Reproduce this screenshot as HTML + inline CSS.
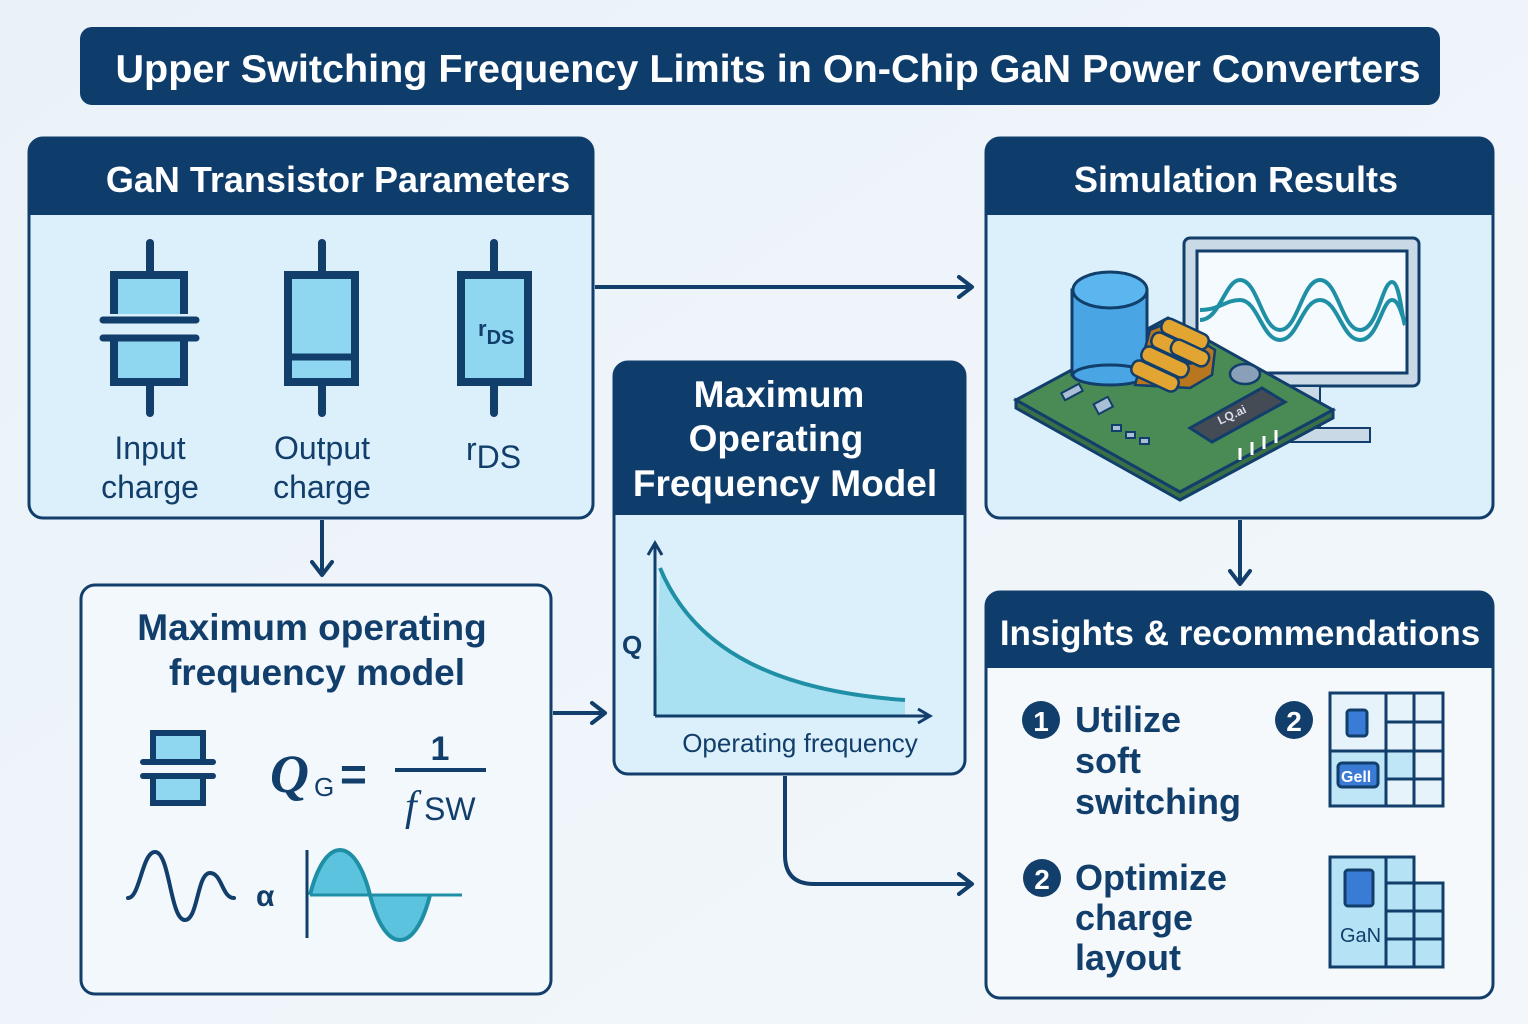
<!DOCTYPE html>
<html><head><meta charset="utf-8"><style>
html,body{margin:0;padding:0;background:#eef4f9}
svg{display:block}
text{font-family:"Liberation Sans","DejaVu Sans",sans-serif;fill:#123e6b}
</style></head><body>
<svg width="1528" height="1024" viewBox="0 0 1528 1024" xmlns="http://www.w3.org/2000/svg">
<defs>
<linearGradient id="bg" x1="0" y1="0" x2="1" y2="1"><stop offset="0" stop-color="#eaf2f8"/><stop offset="1" stop-color="#f3f7fb"/></linearGradient>
<marker id="ah" markerWidth="24" markerHeight="24" refX="19" refY="12" orient="auto" markerUnits="userSpaceOnUse" viewBox="0 0 24 24"><path d="M6,2 L19,12 L6,22" fill="none" stroke="#123e6b" stroke-width="4" stroke-linecap="round" stroke-linejoin="round"/></marker>
</defs>
<rect width="1528" height="1024" fill="url(#bg)"/>
<!-- title -->
<rect x="80" y="27" width="1360" height="78" rx="12" fill="#0f3d6b"/>
<text x="768" y="82" text-anchor="middle" font-size="39" font-weight="bold" textLength="1305" lengthAdjust="spacingAndGlyphs" style="fill:#fff">Upper Switching Frequency Limits in On-Chip GaN Power Converters</text>

<!-- left top panel -->
<rect x="29" y="138" width="564" height="380" rx="14" fill="#dcf0fb" stroke="#123e6b" stroke-width="3"/>
<path d="M29,215 V152 a14,14 0 0 1 14,-14 H579 a14,14 0 0 1 14,14 V215 Z" fill="#0f3d6b"/>
<text x="338" y="192" text-anchor="middle" font-size="36" font-weight="bold" style="fill:#fff">GaN Transistor Parameters</text>
<g stroke="#123e6b" stroke-width="8" stroke-linecap="round" fill="#8fd6f1">
<line x1="150" y1="243" x2="150" y2="275"/><line x1="150" y1="385" x2="150" y2="413"/>
<rect x="114" y="275" width="70" height="107"/>
<line x1="322" y1="243" x2="322" y2="275"/><line x1="322" y1="385" x2="322" y2="413"/>
<rect x="288" y="275" width="67" height="107"/>
<line x1="494" y1="243" x2="494" y2="275"/><line x1="494" y1="385" x2="494" y2="413"/>
<rect x="461" y="275" width="67" height="107"/>
</g>
<rect x="100" y="314" width="100" height="22" fill="#dcf0fb"/>
<line x1="103" y1="320" x2="196" y2="320" stroke="#123e6b" stroke-width="7" stroke-linecap="round"/>
<line x1="103" y1="338" x2="196" y2="338" stroke="#123e6b" stroke-width="7" stroke-linecap="round"/>
<line x1="290" y1="357" x2="354" y2="357" stroke="#123e6b" stroke-width="7"/>
<text x="478" y="336" font-size="22" font-weight="bold">r<tspan font-size="20" dy="8">DS</tspan></text>
<text x="150" y="459" text-anchor="middle" font-size="32">Input</text>
<text x="150" y="498" text-anchor="middle" font-size="32">charge</text>
<text x="322" y="459" text-anchor="middle" font-size="32">Output</text>
<text x="322" y="498" text-anchor="middle" font-size="32">charge</text>
<text x="466" y="460" font-size="32">r<tspan dy="8">DS</tspan></text>

<!-- sim panel -->
<rect x="986" y="138" width="507" height="380" rx="14" fill="#dcf0fb" stroke="#123e6b" stroke-width="3"/>
<path d="M986,215 V152 a14,14 0 0 1 14,-14 H1479 a14,14 0 0 1 14,14 V215 Z" fill="#0f3d6b"/>
<text x="1236" y="192" text-anchor="middle" font-size="36" font-weight="bold" style="fill:#fff">Simulation Results</text>
<!-- monitor -->
<rect x="1184" y="238" width="235" height="148" rx="6" fill="#c9d9e6" stroke="#123e6b" stroke-width="3"/>
<rect x="1197" y="251" width="210" height="122" fill="#f4fafd" stroke="#123e6b" stroke-width="3"/>
<rect x="1290" y="386" width="30" height="44" fill="#c9d9e6" stroke="#123e6b" stroke-width="2"/>
<rect x="1270" y="428" width="100" height="14" fill="#c9d9e6" stroke="#123e6b" stroke-width="2"/>
<path d="M1200,320 C1220,320 1225,280 1240,280 C1258,280 1262,330 1280,330 C1298,330 1302,280 1320,280 C1338,280 1342,330 1360,330 C1378,330 1382,282 1392,282 C1400,282 1402,320 1405,325" fill="none" stroke="#1f8fa6" stroke-width="4"/>
<path d="M1200,310 C1220,310 1225,300 1240,300 C1258,300 1262,340 1280,340 C1298,340 1302,300 1320,300 C1338,300 1342,340 1360,340 C1378,340 1382,300 1392,300 C1400,300 1402,320 1405,320" fill="none" stroke="#1f8fa6" stroke-width="4"/>
<!-- pcb -->
<path d="M1016,400 L1168,318 L1333,410 L1180,492 Z" fill="#4a8a55" stroke="#123e6b" stroke-width="3"/>
<path d="M1016,400 L1016,408 L1180,500 L1333,418 L1333,410 L1180,492 Z" fill="#3b7046" stroke="#123e6b" stroke-width="3"/>
<rect x="1072" y="290" width="75" height="85" fill="#4aa5e5" stroke="#123e6b" stroke-width="3"/>
<ellipse cx="1110" cy="290" rx="37" ry="18" fill="#5bb5ee" stroke="#123e6b" stroke-width="3"/>
<ellipse cx="1110" cy="375" rx="37" ry="10" fill="#4aa5e5" stroke="#123e6b" stroke-width="3"/>
<g fill="#e3a531" stroke="#123e6b" stroke-width="2.5">
<path d="M1135,385 L1150,330 L1170,322 L1215,350 L1212,375 L1190,388 Z" fill="#b8761e"/>
<rect x="1130" y="368" width="50" height="16" rx="7" transform="rotate(25 1155 376)"/>
<rect x="1140" y="354" width="50" height="16" rx="7" transform="rotate(25 1165 362)"/>
<rect x="1150" y="340" width="50" height="16" rx="7" transform="rotate(25 1175 348)"/>
<rect x="1160" y="326" width="50" height="16" rx="7" transform="rotate(25 1185 334)"/>
<rect x="1170" y="345" width="40" height="16" rx="7" transform="rotate(25 1190 353)"/>
</g>
<ellipse cx="1245" cy="374" rx="15" ry="10" fill="#8aa0b8" stroke="#123e6b" stroke-width="2.5"/>
<path d="M1190,428 L1262,388 L1285,402 L1212,442 Z" fill="#444b55" stroke="#123e6b" stroke-width="3"/>
<text x="1218" y="420" font-size="12" font-weight="bold" style="fill:#dde" transform="rotate(-25 1230 418)">LQ.ai</text>
<g stroke="#fff" stroke-width="3"><line x1="1240" y1="448" x2="1240" y2="460"/><line x1="1252" y1="442" x2="1252" y2="455"/><line x1="1264" y1="436" x2="1264" y2="449"/><line x1="1276" y1="430" x2="1276" y2="443"/></g>
<g fill="#a9bfd6" stroke="#123e6b" stroke-width="2"><rect x="1062" y="388" width="20" height="8" transform="rotate(-28 1072 392)"/><rect x="1095" y="400" width="16" height="11" transform="rotate(-28 1103 405)"/><rect x="1112" y="425" width="9" height="6"/><rect x="1126" y="432" width="9" height="6"/><rect x="1140" y="438" width="9" height="6"/></g>

<!-- middle panel -->
<rect x="614" y="362" width="351" height="412" rx="14" fill="#dcf0fb" stroke="#123e6b" stroke-width="3"/>
<path d="M614,515 V376 a14,14 0 0 1 14,-14 H951 a14,14 0 0 1 14,14 V515 Z" fill="#0f3d6b"/>
<text x="779" y="407" text-anchor="middle" font-size="37" font-weight="bold" style="fill:#fff">Maximum</text>
<text x="776" y="451" text-anchor="middle" font-size="37" font-weight="bold" style="fill:#fff">Operating</text>
<text x="785" y="496" text-anchor="middle" font-size="37" font-weight="bold" style="fill:#fff">Frequency Model</text>
<path d="M660,568 C690,640 760,690 905,700 L905,716 L655,716 Z" fill="#a9e0f2"/>
<path d="M660,568 C690,640 760,690 905,700" fill="none" stroke="#1f8fa6" stroke-width="4"/>
<line x1="655" y1="716" x2="655" y2="543" stroke="#123e6b" stroke-width="3"/>
<path d="M648,555 L655,543 L662,555" fill="none" stroke="#123e6b" stroke-width="3"/>
<line x1="655" y1="716" x2="930" y2="716" stroke="#123e6b" stroke-width="3"/>
<path d="M918,709 L930,716 L918,723" fill="none" stroke="#123e6b" stroke-width="3"/>
<text x="622" y="654" font-size="26" font-weight="bold">Q</text>
<text x="800" y="752" text-anchor="middle" font-size="26">Operating frequency</text>

<!-- bottom left panel -->
<rect x="81" y="585" width="470" height="409" rx="14" fill="#f2f8fc" stroke="#123e6b" stroke-width="3"/>
<text x="312" y="640" text-anchor="middle" font-size="37" font-weight="bold">Maximum operating</text>
<text x="317" y="685" text-anchor="middle" font-size="37" font-weight="bold">frequency model</text>
<rect x="153" y="733" width="50" height="70" fill="#8fd6f1" stroke="#123e6b" stroke-width="6"/>
<rect x="138" y="760" width="80" height="16" fill="#f2f8fc"/>
<line x1="143" y1="762" x2="213" y2="762" stroke="#123e6b" stroke-width="6" stroke-linecap="round"/>
<line x1="143" y1="776" x2="213" y2="776" stroke="#123e6b" stroke-width="6" stroke-linecap="round"/>
<text x="270" y="792" font-size="54" font-weight="bold" font-style="italic" style="font-family:'Liberation Serif',serif;fill:#123e6b">Q</text>
<text x="314" y="796" font-size="26">G</text>
<text x="340" y="790" font-size="46" font-weight="bold">=</text>
<text x="440" y="760" text-anchor="middle" font-size="34" font-weight="bold">1</text>
<line x1="395" y1="770" x2="486" y2="770" stroke="#123e6b" stroke-width="4"/>
<text x="405" y="820" font-size="42" font-style="italic" style="font-family:'Liberation Serif',serif;fill:#123e6b">f</text>
<text x="424" y="820" font-size="32">SW</text>
<path d="M128,898 C140,898 142,852 155,852 C170,852 170,920 185,920 C198,920 197,873 210,873 C222,873 222,898 234,898" fill="none" stroke="#123e6b" stroke-width="4" stroke-linecap="round"/>
<text x="256" y="906" font-size="30" font-weight="bold">α</text>
<path d="M310,895 C325,835 355,835 370,895 C385,955 415,955 430,895 Z" fill="#5cc3df"/>
<path d="M310,895 C325,835 355,835 370,895 C385,955 415,955 430,895" fill="none" stroke="#1f8fa6" stroke-width="4"/>
<line x1="310" y1="895" x2="462" y2="895" stroke="#1f8fa6" stroke-width="3"/>
<line x1="307" y1="850" x2="307" y2="938" stroke="#123e6b" stroke-width="3"/>

<!-- insights -->
<rect x="986" y="592" width="507" height="406" rx="14" fill="#f5f9fc" stroke="#123e6b" stroke-width="3"/>
<path d="M986,668 V606 a14,14 0 0 1 14,-14 H1479 a14,14 0 0 1 14,14 V668 Z" fill="#0f3d6b"/>
<text x="1240" y="645" text-anchor="middle" font-size="35" font-weight="bold" style="fill:#fff">Insights &amp; recommendations</text>
<g font-weight="bold">
<circle cx="1041" cy="720" r="19" fill="#123e6b"/><text x="1041" y="731" text-anchor="middle" font-size="28" style="fill:#fff">1</text>
<circle cx="1294" cy="720" r="19" fill="#123e6b"/><text x="1294" y="731" text-anchor="middle" font-size="28" style="fill:#fff">2</text>
<circle cx="1042" cy="878" r="19" fill="#123e6b"/><text x="1042" y="889" text-anchor="middle" font-size="28" style="fill:#fff">2</text>
<text x="1075" y="732" font-size="36">Utilize</text>
<text x="1075" y="773" font-size="36">soft</text>
<text x="1075" y="814" font-size="36">switching</text>
<text x="1075" y="890" font-size="36">Optimize</text>
<text x="1075" y="930" font-size="36">charge</text>
<text x="1075" y="970" font-size="36">layout</text>
</g>
<!-- grid 1 -->
<g stroke="#123e6b" stroke-width="3">
<rect x="1330" y="693" width="113" height="113" fill="#e6f3fa"/>
<rect x="1330" y="751" width="56" height="55" fill="#bfe6f6"/>
<rect x="1386" y="751" width="28" height="28" fill="#bfe6f6"/>
<line x1="1386" y1="693" x2="1386" y2="806"/><line x1="1414" y1="693" x2="1414" y2="806"/>
<line x1="1386" y1="722" x2="1443" y2="722"/><line x1="1330" y1="751" x2="1443" y2="751"/><line x1="1386" y1="779" x2="1443" y2="779"/>
<rect x="1347" y="710" width="20" height="26" rx="3" fill="#3a7bd5"/>
<rect x="1338" y="763" width="40" height="24" rx="4" fill="#3a7bd5"/>
</g>
<text x="1341" y="782" font-size="16" font-weight="bold" style="fill:#fff">Gell</text>
<!-- grid 2 -->
<g stroke="#123e6b" stroke-width="3">
<rect x="1330" y="857" width="56" height="110" fill="#b5e3f5"/>
<rect x="1386" y="857" width="28" height="28" fill="#b5e3f5"/>
<rect x="1386" y="883" width="57" height="84" fill="#b5e3f5"/>
<line x1="1414" y1="883" x2="1414" y2="967"/><line x1="1386" y1="911" x2="1443" y2="911"/><line x1="1386" y1="939" x2="1443" y2="939"/>
<rect x="1345" y="870" width="28" height="36" rx="3" fill="#3a7bd5"/>
</g>
<text x="1340" y="942" font-size="20">GaN</text>

<!-- arrows -->
<g stroke="#123e6b" stroke-width="4" fill="none" marker-end="url(#ah)">
<line x1="595" y1="287" x2="972" y2="287"/>
<line x1="322" y1="520" x2="322" y2="575"/>
<line x1="553" y1="713" x2="605" y2="713"/>
<line x1="1240" y1="520" x2="1240" y2="584"/>
<path d="M785,776 V855 Q785,884 814,884 H972"/>
</g>
</svg>
</body></html>
